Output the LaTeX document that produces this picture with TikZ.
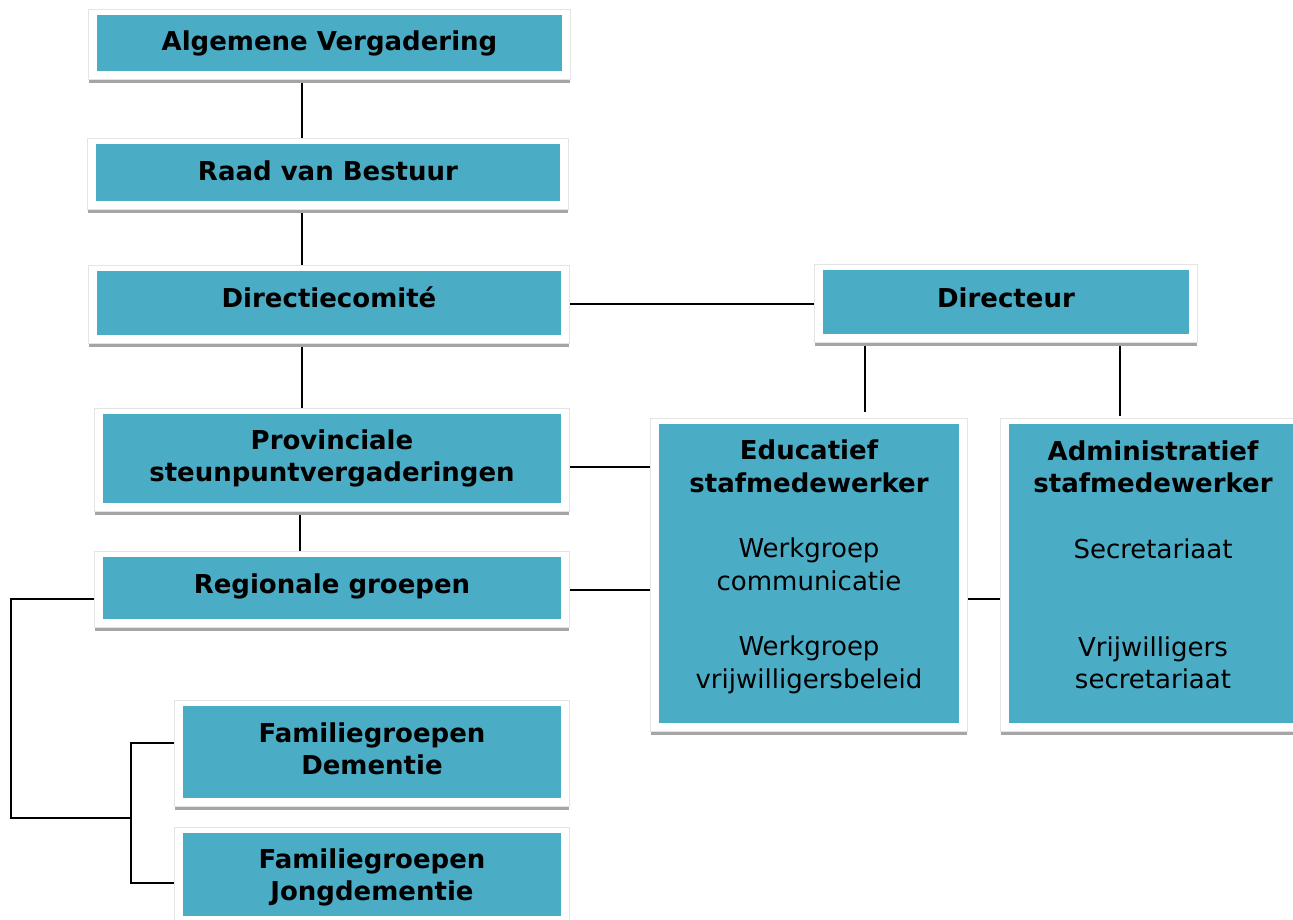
\documentclass[tikz,border=0pt]{standalone}
\usepackage{fontspec}
\setmainfont{DejaVu Sans}
\usetikzlibrary{backgrounds}
\definecolor{tealfill}{RGB}{75,172,198}
\definecolor{shadowgray}{RGB}{165,165,165}
\definecolor{framegray}{RGB}{228,228,228}
\begin{document}
\begin{tikzpicture}[x=0.75pt,y=-0.75pt,
  orgbox/.style 2 args={fill=tealfill, inner sep=0pt,
    minimum width=#1*0.75pt, minimum height=#2*0.75pt},
  boxtext/.style={inner sep=0pt, align=center, font=\fontsize{19.5}{24.5}\selectfont},
  conn/.style={draw=black, line width=1.5pt},
  frameshadow/.style={fill=shadowgray},
  framebox/.style={fill=white, draw=framegray, line width=0.6pt}]
\useasboundingbox (0,0) rectangle (1293,920);
\clip (0,0) rectangle (1293,920);

% boxes
\node[orgbox={465}{56}] (av) at (329.5,43) {};
\node[orgbox={464}{57}] (rvb) at (328,172.5) {};
\node[orgbox={464}{64}] (dc) at (329,303) {};
\node[orgbox={366}{64}] (dir) at (1006,302) {};
\node[orgbox={458}{89}] (prov) at (332,458.5) {};
\node[orgbox={458}{62}] (reg) at (332,588) {};
\node[orgbox={378}{92}] (fd) at (372,752) {};
\node[orgbox={378}{83}] (fj) at (372,874.5) {};
\node[orgbox={300}{299}] (edu) at (809,573.5) {};
\node[orgbox={288}{299}] (adm) at (1153,573.5) {};

% texts
\node[boxtext] (avt) at (av.center) {\bfseries Algemene Vergadering};
\node[boxtext] (rvbt) at ([yshift=1.5pt]rvb.center) {\bfseries Raad van Bestuur};
\node[boxtext] (dct) at ([yshift=4.5pt]dc.center) {\bfseries Directiecomité};
\node[boxtext] (dirt) at ([yshift=3pt]dir.center) {\bfseries Directeur};
\node[boxtext] (provt) at (prov.center) {{\bfseries Provinciale}\\{\bfseries steunpuntvergaderingen}};
\node[boxtext] (regt) at ([yshift=1.5pt]reg.center) {\bfseries Regionale groepen};
\node[boxtext] (fdt) at ([yshift=2.5pt]fd.center) {{\bfseries Familiegroepen}\\{\bfseries Dementie}};
\node[boxtext] (fjt) at ([yshift=-2.25pt]fj.center) {{\bfseries Familiegroepen}\\{\bfseries Jongdementie}};
\node[boxtext] (edut) at ([yshift=5pt]edu.center) {{\bfseries Educatief}\\{\bfseries stafmedewerker}\\[24.5pt]{Werkgroep}\\{communicatie}\\[24.5pt]{Werkgroep}\\{vrijwilligersbeleid}};
\node[boxtext] (admt) at ([yshift=6.5pt]adm.center) {{\bfseries Administratief}\\{\bfseries stafmedewerker}\\[24.5pt]{Secretariaat}\\[49pt]{Vrijwilligers}\\{secretariaat}};

% helper coordinates
\coordinate (xmain) at (302,0);
\coordinate (xprov) at (300,0);
\coordinate (ydir) at (0,304);
\coordinate (yprov) at (0,467);
\coordinate (yreg) at (0,590);
\coordinate (yedu) at (0,599);
\coordinate (xedu) at (865,0);
\coordinate (xadm) at (1120,0);
\coordinate (rail) at (11,599);
\coordinate (jn) at (131,818);
\coordinate (jt) at (131,743);
\coordinate (jb) at (131,883);

\begin{scope}[on background layer]
  % connectors
  \draw[conn] (av.south -| xmain) -- (rvb.north -| xmain);
  \draw[conn] (rvb.south -| xmain) -- (dc.north -| xmain);
  \draw[conn] (dc.south -| xmain) -- (prov.north -| xmain);
  \draw[conn] (prov.south -| xprov) -- (reg.north -| xprov);
  \draw[conn] (dc.east |- ydir) -- (dir.west |- ydir);
  \draw[conn] (dir.south -| xedu) -- ([yshift=9pt]edu.north -| xedu);
  \draw[conn] (dir.south -| xadm) -- ([yshift=6pt]adm.north -| xadm);
  \draw[conn] (prov.east |- yprov) -- (edu.west |- yprov);
  \draw[conn] (reg.east |- yreg) -- (edu.west |- yreg);
  \draw[conn] (edu.east |- yedu) -- (adm.west |- yedu);
  \draw[conn] (reg.west |- rail) -- (rail) -- (rail |- jn) -- (jn);
  \draw[conn] (fd.west |- jt) -- (jt) -- (jb) -- (fj.west |- jb);
  % frames and shadows
  \foreach \n in {av,rvb,dc,dir,prov,reg,fd,fj,edu,adm}{
    \fill[frameshadow] ([xshift=-6pt,yshift=-6pt]\n.south west) rectangle ([xshift=6pt,yshift=-9pt]\n.south east);
    \filldraw[framebox] ([xshift=-6pt,yshift=3.75pt]\n.north west) rectangle ([xshift=6pt,yshift=-6pt]\n.south east);
  }
\end{scope}
\end{tikzpicture}
\end{document}
